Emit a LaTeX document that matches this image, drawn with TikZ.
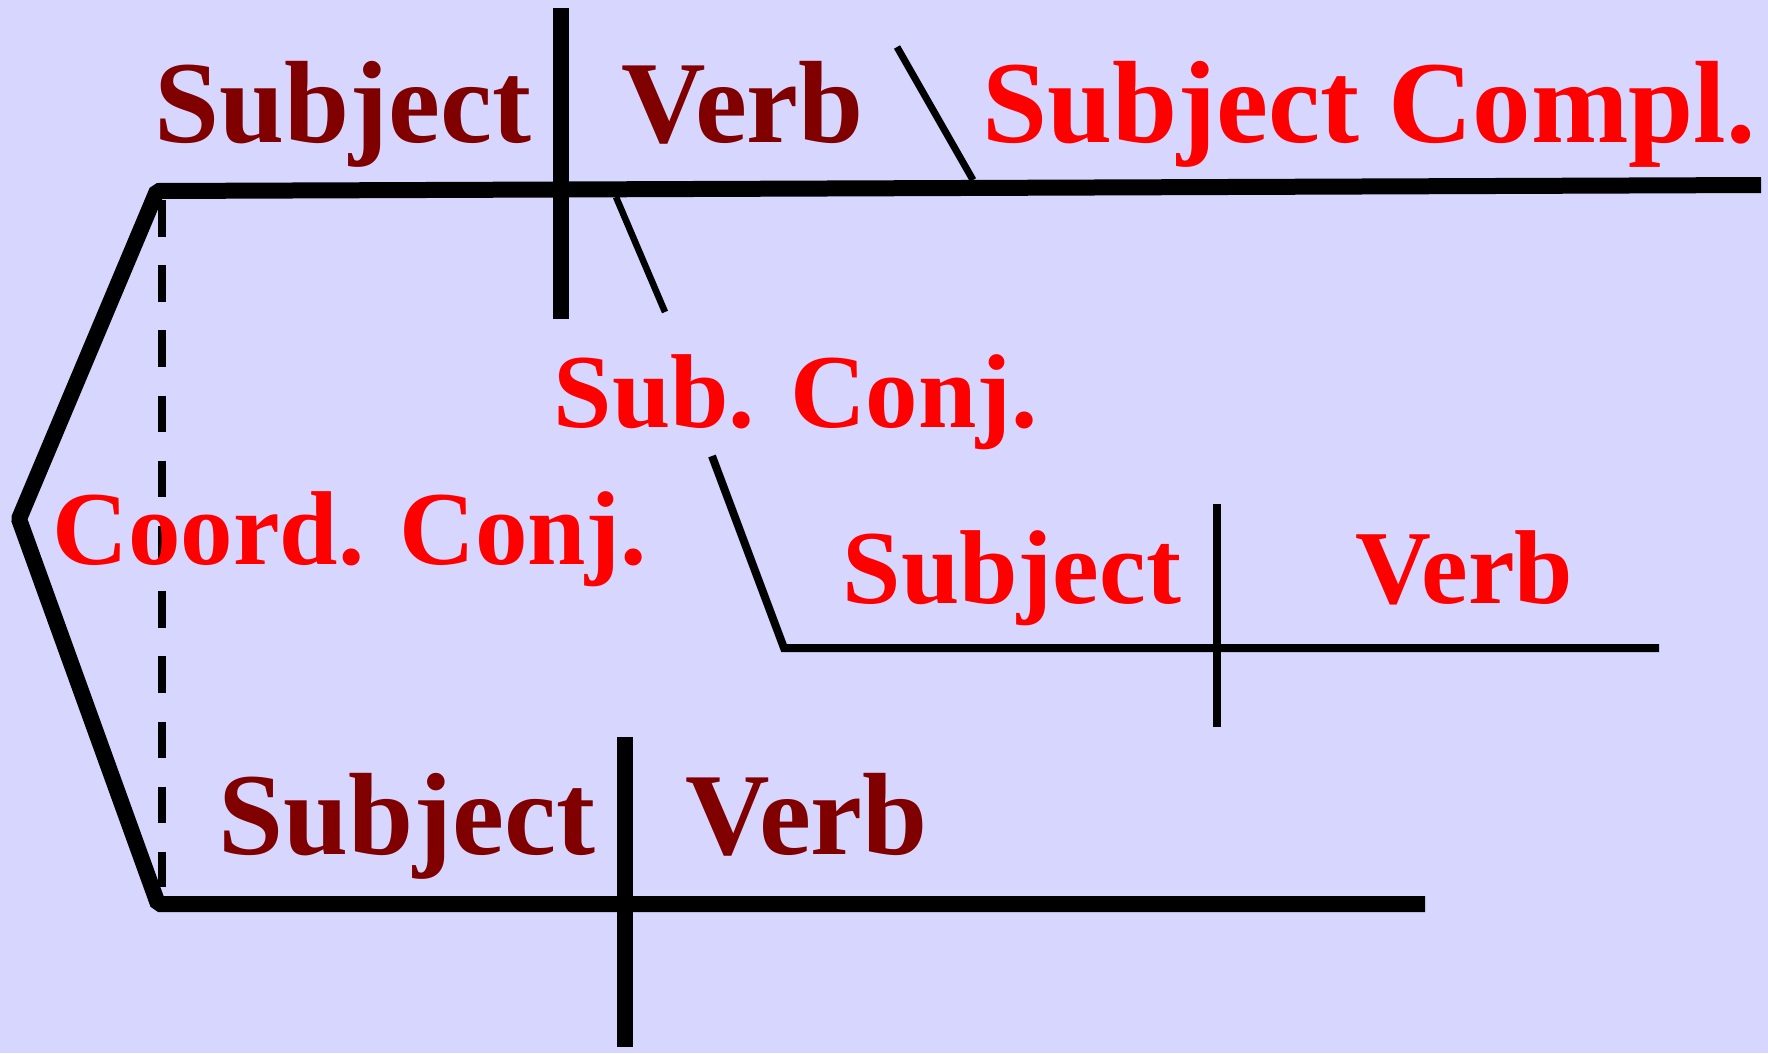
\documentclass[tikz,border=0pt]{standalone}
\usepackage{fontspec}
\setmainfont{Liberation Serif}
\definecolor{bgc}{RGB}{214,214,255}
\definecolor{dred}{RGB}{128,0,0}
\definecolor{bred}{RGB}{255,0,0}
\tikzset{
  big/.style={anchor=base west, inner sep=0pt, font=\fontsize{117}{120}\selectfont\bfseries},
  small/.style={anchor=base west, inner sep=0pt, font=\fontsize{105}{110}\selectfont\bfseries},
  heavyline/.style={line width=16pt, line cap=butt},
  thinline/.style={line width=6.5pt, line cap=butt},
  midline/.style={line width=8pt, line cap=butt},
}
\begin{document}
\begin{tikzpicture}[x=1pt, y=-1pt]
\fill[bgc] (0,0) rectangle (1768,1053);
\useasboundingbox (0,0) rectangle (1768,1053);
% coordinates
\coordinate (tr) at (1761,185);
\coordinate (tl) at (157,191);
\coordinate (lv) at (19,519);
\coordinate (bl) at (158,904);
\coordinate (br) at (1425,904);
% main frame
\draw[heavyline, line join=bevel] (tr) -- (tl) -- (lv) -- (bl) -- (br);
% dashed line
\coordinate (d1) at (161.5,200);
\coordinate (d2) at (161.5,887);
\draw[line width=8pt, dash pattern=on 36.5pt off 28.7pt] (d1) -- (d2);
% top clause
\coordinate (tb1) at (561,8);
\coordinate (tb2) at (561,319);
\draw[heavyline] (tb1) -- (tb2);
\coordinate (ts1) at (616,197);
\coordinate (ts2) at (665,312);
\draw[thinline] (ts1) -- (ts2);
\coordinate (sc1) at (897,47);
\coordinate (sc2) at (973,180);
\draw[line width=7pt] (sc1) -- (sc2);
% subordinate clause
\coordinate (m1) at (712,456);
\coordinate (m2) at (784,648);
\coordinate (m3) at (1659,648);
\draw[midline, line join=miter] (m1) -- (m2) -- (m3);
\coordinate (mb1) at (1217,504);
\coordinate (mb2) at (1217,727);
\draw[midline] (mb1) -- (mb2);
% bottom clause
\coordinate (bb1) at (625,737);
\coordinate (bb2) at (625,1047);
\draw[heavyline] (bb1) -- (bb2);
% texts
\node[big, text=dred] (subj1) at (154,142) {Subject};
\node[big, text=dred] (verb1) at (621,142) {Verb};
\node[big, text=bred] (scompl) at (982,142) {Subject Compl.};
\node[small, text=bred] (subconj) at (553.5,427) {Sub. Conj.};
\node[small, text=bred] (coord) at (52,564) {Coord. Conj.};
\node[small, text=bred] (subj2) at (842.5,603) {Subject};
\node[small, text=bred] (verb2) at (1355,603) {Verb};
\node[big, text=dred] (subj3) at (218,854) {Subject};
\node[big, text=dred] (verb3) at (685,854) {Verb};
\end{tikzpicture}
\end{document}
